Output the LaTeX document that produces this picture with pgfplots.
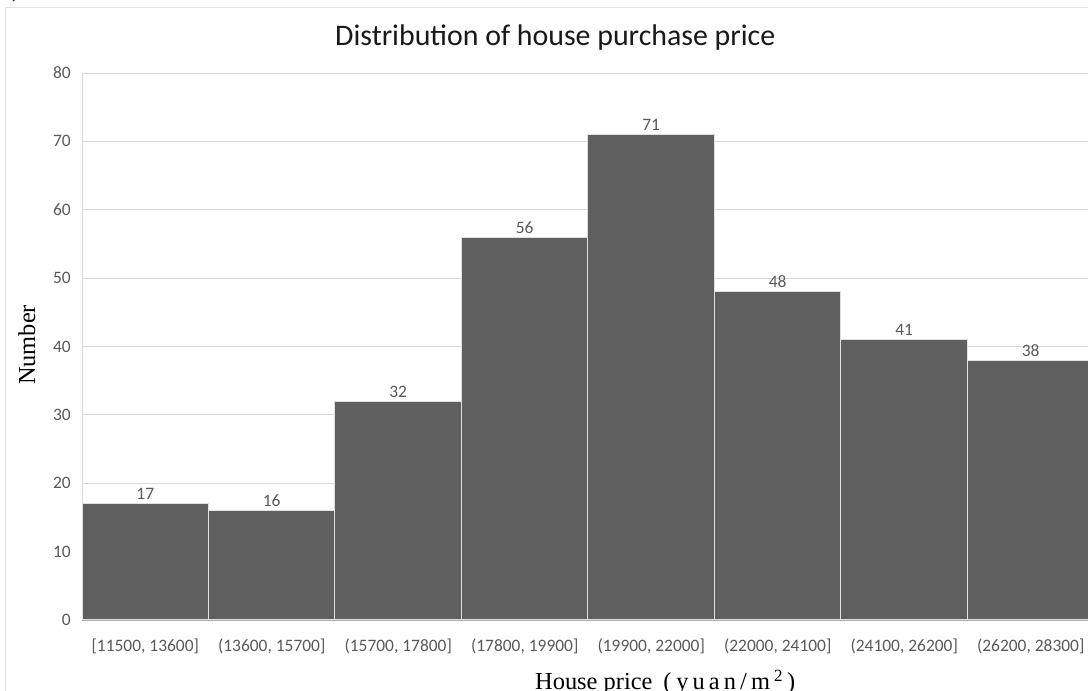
\documentclass[border=0pt]{standalone}
\usepackage{pgfplots}
\pgfplotsset{compat=1.18}
\usepackage{fontspec}
\setmainfont{Carlito}
\newfontfamily\timesfont{Liberation Serif}
\definecolor{barfill}{HTML}{5F5F5F}
\definecolor{gridgray}{HTML}{D9D9D9}
\definecolor{ticktext}{HTML}{595959}
\definecolor{framegray}{HTML}{E3E3E3}
\begin{document}
\begin{tikzpicture}[x=1bp,y=1bp]
  \path[use as bounding box] (0,0) rectangle (1088,691);
  \clip (0,0) rectangle (1088,691);
  % chart area frame
  \draw[framegray, line width=0.8bp] (5.5,-10) -- (5.5,684) -- (1200,684);
  \node[anchor=base west, inner sep=0pt, font=\timesfont\fontsize{22}{22}\selectfont] at (12,693) {)};
  \begin{axis}[
    at={(82bp,71bp)}, anchor=origin,
    scale only axis, width=1012bp, height=547bp,
    xmin=0, xmax=8, ymin=0, ymax=80,
    axis x line=bottom, axis y line=left,
    x axis line style={draw=gridgray!80!black, -},
    y axis line style={draw=gridgray, -},
    ymajorgrids, grid style={gridgray, line width=0.8bp},
    major tick length=0pt,
    ytick={0,10,...,80},
    xtick={0.5,1.5,...,7.5},
    xticklabels={{[11500, 13600]},{(13600, 15700]},{(15700, 17800]},{(17800, 19900]},
                 {(19900, 22000]},{(22000, 24100]},{(24100, 26200]},{(26200, 28300]}},
    /pgf/number format/assume math mode=true,
    tick label style={font=\fontsize{17.5}{20}\selectfont, text=ticktext, inner sep=0pt},
    yticklabel style={anchor=east, xshift=-11bp},
    xticklabel style={anchor=base, yshift=-32bp},
    clip=false,
  ]
    \addplot[ybar, bar width=1, fill=barfill, draw=white!88!black, line width=1bp,
      nodes near coords,
      every node near coord/.append style={font=\fontsize{17.5}{20}\selectfont, text=ticktext,
        anchor=base, inner sep=0pt, yshift=4bp}]
      coordinates {(0.5,17) (1.5,16) (2.5,32) (3.5,56) (4.5,71) (5.5,48) (6.5,41) (7.5,38)};
  \end{axis}
  \node[anchor=base west, inner sep=0pt, font=\fontsize{30}{34}\selectfont, text=black!90] at (335,645)
    {Distribution of house purchase price};
  \node[rotate=90, anchor=base, inner sep=0pt, font=\timesfont\fontsize{24.5}{25}\selectfont] at (35,346) {Number};
  \node[anchor=base west, inner sep=0pt, font=\timesfont\fontsize{24.5}{25}\selectfont] at (535,1)
    {House price\hspace{0.45em}(\hspace{0.2em}y\,u\,a\,n\,/\,m\,\textsuperscript{2}\,)};
\end{tikzpicture}
\end{document}
